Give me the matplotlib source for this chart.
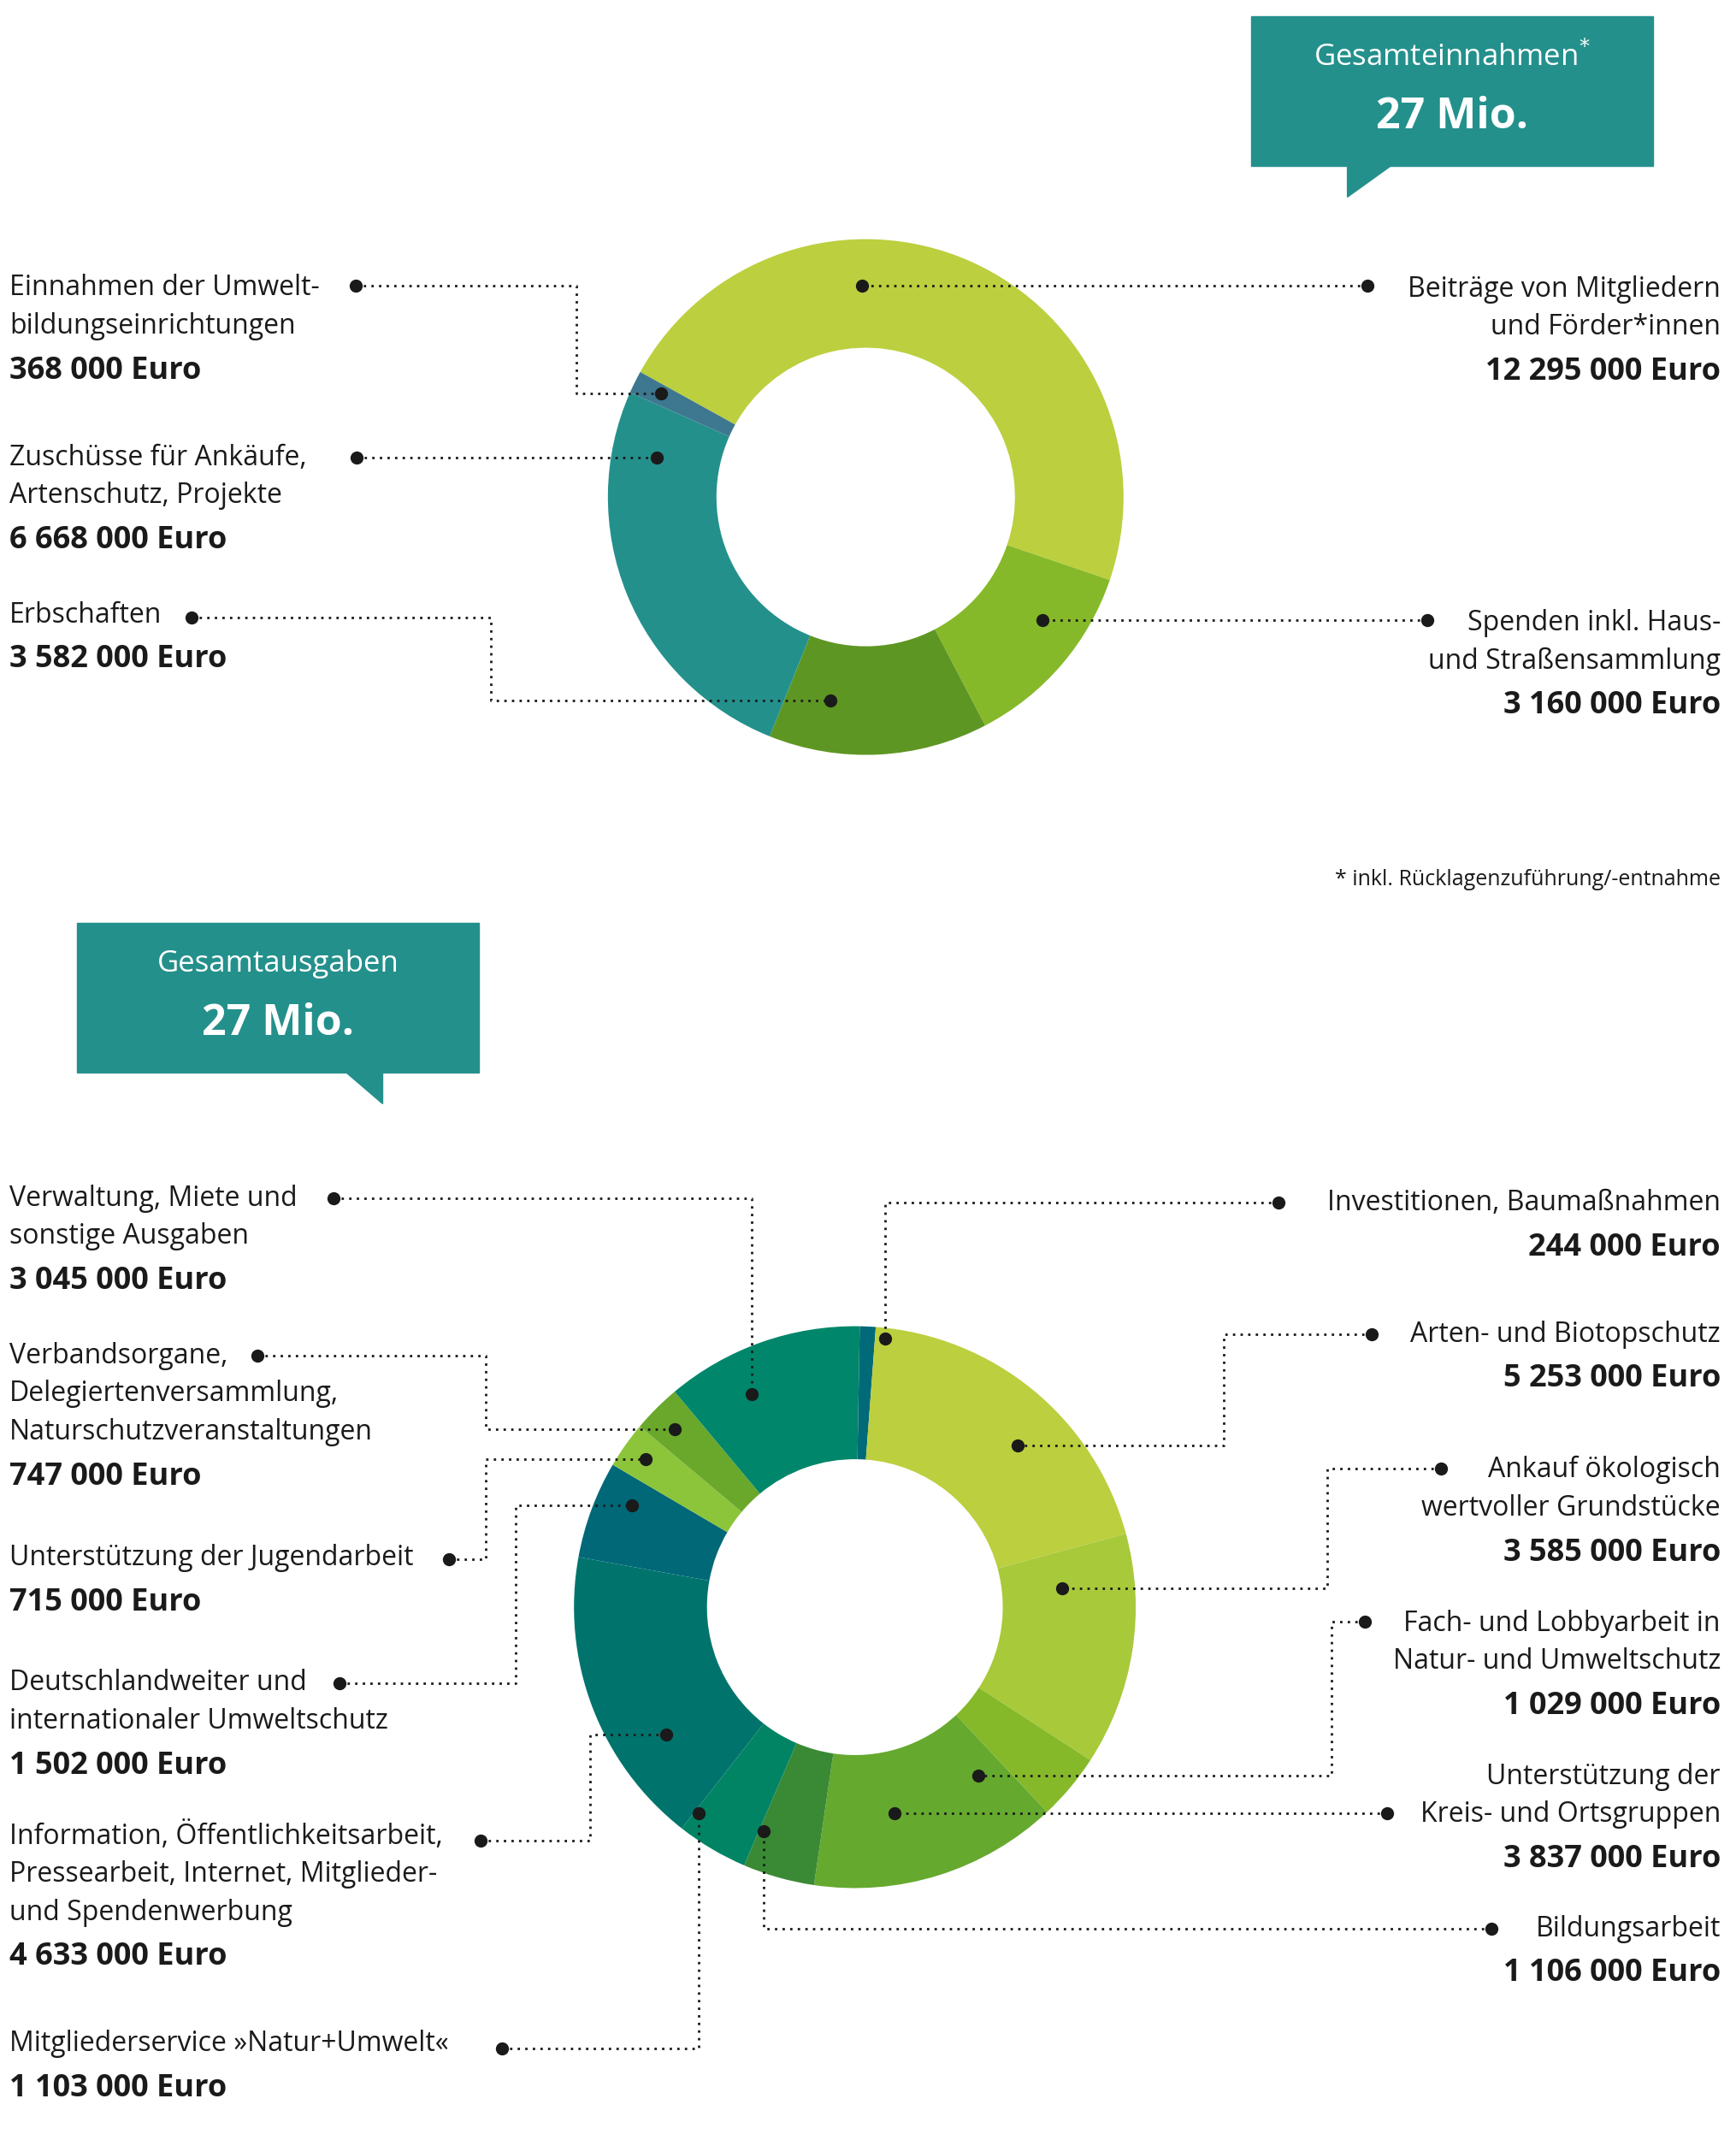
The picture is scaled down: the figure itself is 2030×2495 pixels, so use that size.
import matplotlib.pyplot as plt
from matplotlib.patches import Rectangle, Polygon

plt.rcParams['font.family'] = ['Open Sans', 'DejaVu Sans']

# Einnahmen (in Tausend Euro), im Uhrzeigersinn
inc_labels = ['Beiträge', 'Spenden', 'Erbschaften', 'Zuschüsse', 'Umweltbildung']
inc_values = [12295, 3160, 3582, 6668, 368]
inc_colors = ['#bccf3e', '#86b929', '#5e9623', '#24908c', '#3e7790']

# Ausgaben (in Tausend Euro), im Uhrzeigersinn ab oben
exp_labels = ['Investitionen', 'Arten', 'Ankauf', 'Fach', 'Kreis', 'Bildung',
              'Mitgliederservice', 'Information', 'Deutschland', 'Jugend',
              'Verband', 'Verwaltung']
exp_values = [244, 5253, 3585, 1029, 3837, 1106, 1103, 4633, 1502, 715, 747, 3045]
exp_colors = ['#006a78', '#bccf3e', '#a8c93a', '#86b929', '#65a92e', '#3a8a35',
              '#008464', '#00746c', '#006877', '#8cc43a', '#6aa82c', '#00866a']

TEAL = '#24908c'
TXT = '#1a1a1a'

fig = plt.figure(figsize=(20.31, 24.95), dpi=100)
ax = fig.add_axes([0, 0, 1, 1])


def donut(values, colors, center, r, w, start):
    # y-Achse ist umgedreht: Winkel spiegeln, damit es optisch im Uhrzeigersinn läuft
    ax.pie(values, colors=colors, center=center, radius=r, startangle=-start,
           counterclock=True, wedgeprops=dict(width=w, linewidth=0), frame=True)


donut(inc_values, inc_colors, (638, 366), 190, 80, 151)
donut(exp_values, exp_colors, (630, 1184), 207, 98, 89)
ax.set_xlim(0, 1280)
ax.set_ylim(1572, 0)
ax.set_aspect('equal')
ax.axis('off')


def leader(pts):
    xs, ys = zip(*pts)
    ax.plot(xs, ys, ls=(0, (1, 2.2)), color=TXT, lw=2, zorder=5)
    for p in (pts[0], pts[-1]):
        ax.plot(*p, 'o', color=TXT, ms=10, zorder=6)


def label(x, y, lines, value, ha):
    for i, ln in enumerate(lines):
        ax.text(x, y + 28 * i, ln, ha=ha, va='center', fontsize=23, color=TXT)
    ax.text(x, y + 28 * (len(lines) - 1) + 33, value, ha=ha, va='center',
            fontsize=26, fontweight='bold', color=TXT)


def box(x0, y0, tri, title, big):
    ax.add_patch(Rectangle((x0, y0), 296, 110, color=TEAL, zorder=3))
    ax.add_patch(Polygon(tri, closed=True, color=TEAL, zorder=3))
    ax.text(x0 + 148, y0 + 30, title, ha='center', va='center', fontsize=25, color='white', zorder=4)
    ax.text(x0 + 148, y0 + 74, big, ha='center', va='center', fontsize=36,
            fontweight='bold', color='white', zorder=4)


box(922, 12, [(993, 122), (1025, 122), (993, 145)], 'Gesamteinnahmen$^{*}$', '27 Mio.')
box(57, 680, [(255, 790), (282, 790), (282, 813)], 'Gesamtausgaben', '27 Mio.')

# Einnahmen
leader([(262, 210), (425, 210), (425, 290), (487, 290)])
leader([(263, 337), (484, 337)])
leader([(141, 455), (362, 455), (362, 516), (612, 516)])
leader([(1008, 210), (635, 210)])
leader([(1052, 457), (768, 457)])
label(7, 212, ['Einnahmen der Umwelt-', 'bildungseinrichtungen'], '368 000 Euro', 'left')
label(7, 337, ['Zuschüsse für Ankäufe,', 'Artenschutz, Projekte'], '6 668 000 Euro', 'left')
label(7, 453, ['Erbschaften'], '3 582 000 Euro', 'left')
label(1268, 213, ['Beiträge von Mitgliedern', 'und Förder*innen'], '12 295 000 Euro', 'right')
label(1268, 459, ['Spenden inkl. Haus-', 'und Straßensammlung'], '3 160 000 Euro', 'right')
ax.text(1268, 648, '* inkl. Rücklagenzuführung/-entnahme', ha='right', va='center',
        fontsize=18, color=TXT)

# Ausgaben
leader([(246, 883), (554, 883), (554, 1027)])
leader([(190, 999), (358, 999), (358, 1053), (497, 1053)])
leader([(331, 1149), (358, 1149), (358, 1075), (476, 1075)])
leader([(250, 1240), (380, 1240), (380, 1109), (466, 1109)])
leader([(354, 1356), (435, 1356), (435, 1278), (491, 1278)])
leader([(370, 1509), (515, 1509), (515, 1336)])
leader([(942, 886), (652, 886), (652, 986)])
leader([(1011, 983), (902, 983), (902, 1065), (750, 1065)])
leader([(1062, 1082), (978, 1082), (978, 1170), (783, 1170)])
leader([(1006, 1195), (981, 1195), (981, 1308), (721, 1308)])
leader([(1022, 1336), (659, 1336)])
leader([(1099, 1421), (563, 1421), (563, 1349)])

label(7, 883, ['Verwaltung, Miete und', 'sonstige Ausgaben'], '3 045 000 Euro', 'left')
label(7, 999, ['Verbandsorgane,', 'Delegiertenversammlung,', 'Naturschutzveranstaltungen'],
      '747 000 Euro', 'left')
label(7, 1148, ['Unterstützung der Jugendarbeit'], '715 000 Euro', 'left')
label(7, 1240, ['Deutschlandweiter und', 'internationaler Umweltschutz'], '1 502 000 Euro', 'left')
label(7, 1353, ['Information, Öffentlichkeitsarbeit,', 'Pressearbeit, Internet, Mitglieder-',
                'und Spendenwerbung'], '4 633 000 Euro', 'left')
label(7, 1506, ['Mitgliederservice »Natur+Umwelt«'], '1 103 000 Euro', 'left')
label(1268, 886, ['Investitionen, Baumaßnahmen'], '244 000 Euro', 'right')
label(1268, 983, ['Arten- und Biotopschutz'], '5 253 000 Euro', 'right')
label(1268, 1083, ['Ankauf ökologisch', 'wertvoller Grundstücke'], '3 585 000 Euro', 'right')
label(1268, 1196, ['Fach- und Lobbyarbeit in', 'Natur- und Umweltschutz'], '1 029 000 Euro', 'right')
label(1268, 1309, ['Unterstützung der', 'Kreis- und Ortsgruppen'], '3 837 000 Euro', 'right')
label(1268, 1421, ['Bildungsarbeit'], '1 106 000 Euro', 'right')

fig.savefig('out.png', dpi=100, facecolor='white')
